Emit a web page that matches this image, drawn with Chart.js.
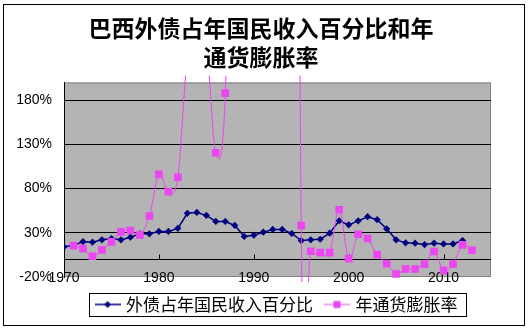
<!DOCTYPE html>
<html>
<head>
<meta charset="utf-8">
<script src="https://cdn.jsdelivr.net/npm/chart.js@4"></script>
<style>
  html, body { margin: 0; padding: 0; background: #fff; }
</style>
</head>
<body>
<canvas id="debtChart" width="528" height="329"></canvas>
<script>
// ── data ──────────────────────────────────────────────────────────────────
const years = [1970, 1971, 1972, 1973, 1974, 1975, 1976, 1977, 1978, 1979,
               1980, 1981, 1982, 1983, 1984, 1985, 1986, 1987, 1988, 1989,
               1990, 1991, 1992, 1993, 1994, 1995, 1996, 1997, 1998, 1999,
               2000, 2001, 2002, 2003, 2004, 2005, 2006, 2007, 2008, 2009,
               2010, 2011, 2012, 2013];

// external debt as % of gross national income
const debtShare = [14.1, 15.5, 20, 19.4, 22, 23.5, 22, 25, 28.8, 28.8,
                   31.5, 31.5, 35, 52, 53, 49.7, 42.8, 42.8, 38.3, 25.8,
                   27.3, 30.7, 33.8, 33.8, 29.2, 21.2, 22, 22.7, 29.6, 43.6,
                   39, 43.5, 48.2, 44.8, 34.5, 22, 18.6, 18.2, 16.7, 18.2,
                   17.4, 17.4, 21.2, null];

// annual inflation, % (1983-85 and 1988-94 run far above the axis)
const inflation = [null, 15.5, 12.1, 3.5, 10.6, 19.7, 31, 32.6, 27.7, 49,
                   96, 76.5, 92.8, 226, 230, 240, 120.5, 188, 680, 1430,
                   2950, 430, 950, 1930, 2080, 38.3, 9.1, 7.6, 7.6, 56,
                   0.8, 28.4, 23.5, 5.3, -4.9, -16.6, -11, -11, -5.3, 8.8,
                   -12.5, -5.3, 16.3, 10.2];

const yTicks = [-20, 30, 80, 130, 180];
const xTicks = [1970, 1980, 1990, 2000, 2010];

const seriesNames = ['外债占年国民收入百分比', '年通货膨胀率'];
const NAVY = '#000080';
const MAGENTA = '#ec45f2';

// ── legend icons: short line with the marker in the middle ────────────────
function makeIcon(color, lineW, shape) {
  const c = document.createElement('canvas');
  c.width = 26; c.height = 12;
  const g = c.getContext('2d');
  g.strokeStyle = color; g.lineWidth = lineW;
  g.beginPath(); g.moveTo(0, 6); g.lineTo(26, 6); g.stroke();
  g.fillStyle = color;
  g.beginPath();
  if (shape === 'diamond') {
    g.moveTo(13, 2.5); g.lineTo(16.5, 6); g.lineTo(13, 9.5); g.lineTo(9.5, 6);
  } else {
    g.rect(9.5, 2.5, 7, 7);
  }
  g.fill();
  return c;
}
const legendIcons = [makeIcon(NAVY, 1.5, 'diamond'), makeIcon(MAGENTA, 1, 'square')];

// ── plugins ───────────────────────────────────────────────────────────────
const frame = {
  id: 'frame',
  beforeDraw(chart) {
    const { ctx, chartArea: a } = chart;
    ctx.save();
    ctx.fillStyle = '#fff';
    ctx.fillRect(0, 0, chart.width, chart.height);
    ctx.strokeStyle = '#000';
    ctx.lineWidth = 1;
    ctx.strokeRect(3.5, 4.5, 521, 321);
    ctx.fillStyle = '#b4b4b4';
    ctx.fillRect(a.left, a.top, a.right - a.left, a.bottom - a.top);
    ctx.strokeStyle = '#808080';
    ctx.strokeRect(a.left + 0.5, a.top + 0.5, a.right - a.left - 1, a.bottom - a.top - 1);
    ctx.restore();
  },
  // category axis crosses the value axis at 0
  beforeDatasetsDraw(chart) {
    const { ctx, chartArea: a, scales: { x, y } } = chart;
    const y0 = Math.round(y.getPixelForValue(0)) + 0.5;
    ctx.save();
    ctx.strokeStyle = '#000';
    ctx.lineWidth = 1;
    ctx.beginPath();
    ctx.moveTo(a.left, y0); ctx.lineTo(a.right, y0);
    xTicks.forEach(v => {
      const px = Math.round(x.getPixelForValue(v)) + 0.5;
      ctx.moveTo(px, y0); ctx.lineTo(px, y0 - 5);
    });
    ctx.stroke();
    ctx.restore();
  },
  afterDraw(chart) {
    // box round the legend items
    const lg = chart.legend;
    const pad = lg.options.labels.padding;
    const lw = lg.lineWidths[0];
    const x0 = (lg.left + pad + lg.right - lw) / 2;
    const x1 = x0 + lw - pad;
    const cy = lg.top + pad + 8.5;
    const ctx = chart.ctx;
    ctx.save();
    ctx.strokeStyle = '#000';
    ctx.lineWidth = 1;
    ctx.strokeRect(Math.round(x0 - 9) + 0.5, Math.round(cy - 12) + 0.5, Math.round(x1 - x0 + 17), 23);
    ctx.restore();
  }
};

// uniform Catmull-Rom control points, so the smoothed line overshoots the
// way spreadsheet "smoothed line" charts do
const smoothLine = {
  id: 'smoothLine',
  beforeDatasetDraw(chart, args) {
    if (args.index !== 1) return;
    const line = args.meta.dataset;
    line.updateControlPoints(chart.chartArea, 'x');
    const pts = args.meta.data.filter(p => !p.skip);
    pts.forEach((p, i) => {
      const prev = pts[i - 1] || p;
      const next = pts[i + 1] || p;
      const dx = (next.x - prev.x) / 6;
      const dy = (next.y - prev.y) / 6;
      p.cp1x = p.x - dx; p.cp1y = p.y - dy;
      p.cp2x = p.x + dx; p.cp2y = p.y + dy;
    });
    line._path = undefined;
  }
};

// ── chart ─────────────────────────────────────────────────────────────────
Chart.defaults.font.family = "'Liberation Sans', Arial, sans-serif";
Chart.defaults.color = '#000';

new Chart(document.getElementById('debtChart'), {
  type: 'line',
  data: {
    datasets: [
      {
        label: seriesNames[0],
        data: years.map((yr, i) => ({ x: yr, y: debtShare[i] })),
        borderColor: NAVY, backgroundColor: NAVY,
        borderWidth: 1.5, tension: 0,
        pointStyle: 'rectRot', pointRadius: 3.6, pointBorderWidth: 0,
        order: 2
      },
      {
        label: seriesNames[1],
        data: years.map((yr, i) => ({ x: yr, y: inflation[i] })),
        borderColor: MAGENTA, backgroundColor: MAGENTA,
        borderWidth: 1, tension: 0.4, capBezierPoints: false,
        pointStyle: 'rect', pointRadius: 5.4, pointBorderWidth: 0,
        clip: { left: 5, top: 7, right: 5, bottom: 5 },
        order: 1
      }
    ]
  },
  options: {
    responsive: false,
    devicePixelRatio: 1,
    animation: false,
    events: [],
    layout: { padding: { left: 4, right: 10, top: 0, bottom: 6 } },
    plugins: {
      title: {
        display: true,
        text: ['巴西外债占年国民收入百分比和年', '通货膨胀率'],
        color: '#000',
        font: { family: "'Noto Sans CJK SC', sans-serif", size: 23, weight: 'bold', lineHeight: 1.26 },
        padding: { top: 13.5, bottom: 11 }
      },
      legend: {
        position: 'bottom',
        fullSize: false,
        labels: {
          color: '#000',
          font: { family: "'Noto Sans CJK SC', sans-serif", size: 17 },
          usePointStyle: true,
          pointStyleWidth: 20,
          padding: 14,
          generateLabels: chart => chart.data.datasets.map((ds, i) => ({
            text: ds.label,
            pointStyle: legendIcons[i],
            fillStyle: ds.borderColor,
            strokeStyle: ds.borderColor,
            lineWidth: 0,
            hidden: false,
            datasetIndex: i
          }))
        }
      },
      tooltip: { enabled: false }
    },
    scales: {
      x: {
        type: 'linear',
        min: 1970, max: 2015,
        afterBuildTicks: s => { s.ticks = xTicks.map(v => ({ value: v })); },
        afterFit: s => { s.height = 5; },
        // mirrored so the labels are not clipped to the thin axis box
        ticks: { callback: v => String(v), font: { size: 14 }, padding: -10, mirror: true, maxRotation: 0, autoSkip: false },
        grid: { display: false, drawTicks: false },
        border: { display: false }
      },
      y: {
        min: -20, max: 200,
        afterBuildTicks: s => { s.ticks = yTicks.map(v => ({ value: v })); },
        afterFit: s => { s.width = 60; },
        ticks: { callback: v => v + '%', font: { size: 14 }, padding: 12 },
        grid: {
          drawTicks: false,
          color: c => (c.tick && c.tick.value === -20) ? 'rgba(0,0,0,0)' : '#000'
        },
        border: { color: '#000' }
      },
      // empty right-hand axis that only reserves the margin beside the plot
      y2: {
        position: 'right',
        ticks: { display: false },
        grid: { display: false, drawTicks: false },
        border: { display: false },
        afterFit: s => { s.width = 27; }
      }
    }
  },
  plugins: [frame, smoothLine]
});
</script>
</body>
</html>
